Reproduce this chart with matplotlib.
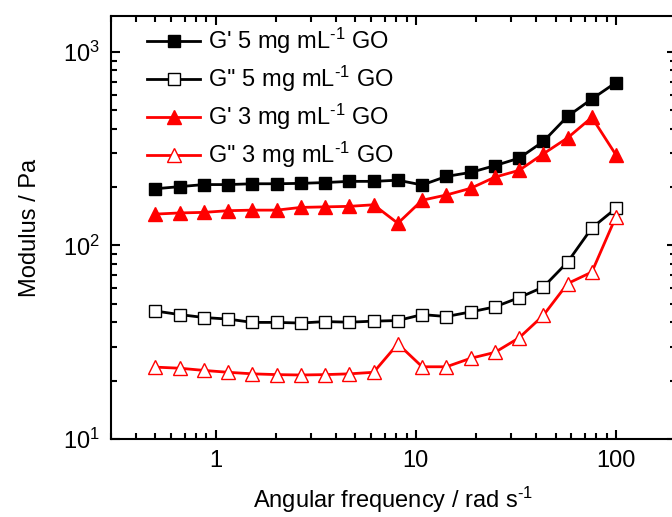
import matplotlib
matplotlib.use("Agg")
import matplotlib.pyplot as plt
from matplotlib import ticker

plt.rcParams['font.family'] = ['Liberation Sans', 'DejaVu Sans']
plt.rcParams['mathtext.fontset'] = 'custom'
plt.rcParams['mathtext.rm'] = 'Liberation Sans'
plt.rcParams['mathtext.it'] = 'Liberation Sans:italic'
plt.rcParams['mathtext.bf'] = 'Liberation Sans:bold'

# angular frequency (rad/s)
freq = [0.5, 0.661, 0.874, 1.155, 1.527, 2.018, 2.667, 3.526, 4.661, 6.161,
        8.144, 10.77, 14.23, 18.81, 24.87, 32.87, 43.45, 57.44, 75.93, 100.0]

# moduli (Pa)
g1_5mg = [196, 201, 206, 206, 208, 208, 209, 211, 214, 214,
          217, 205, 227, 238, 258, 282, 344, 464, 570, 692]
g2_5mg = [45.8, 43.9, 42.4, 41.6, 40.0, 40.0, 39.7, 40.4, 40.1, 40.6,
          40.9, 43.9, 42.9, 45.3, 48.1, 53.7, 60.9, 82.0, 123, 155]
g1_3mg = [145, 147, 148, 151, 152, 152, 157, 158, 159, 162,
          130, 171, 182, 197, 225, 244, 297, 359, 458, 294]
g2_3mg = [23.5, 23.2, 22.6, 22.1, 21.7, 21.5, 21.4, 21.5, 21.7, 22.1,
          31.0, 23.6, 23.6, 26.1, 28.0, 33.3, 43.5, 63.5, 72.8, 140]

sup = r"$^{\text{-}1}$"
labels = ["G' 5 mg mL" + sup + " GO", "G'' 5 mg mL" + sup + " GO",
          "G' 3 mg mL" + sup + " GO", "G'' 3 mg mL" + sup + " GO"]
xticks = [1, 10, 100]
xtick_labels = ['1', '10', '100']

fig = plt.figure(figsize=(6.72, 5.17), dpi=100)
ax = fig.add_axes([0.1652, 0.1509, 0.8408, 0.8172])

lw = 2.0
ax.plot(freq, g1_5mg, '-s', color='black', lw=lw, ms=8.5, mfc='black', mec='black', mew=1, label=labels[0])
ax.plot(freq, g2_5mg, '-s', color='black', lw=lw, ms=8.5, mfc='white', mec='black', mew=1, label=labels[1])
ax.plot(freq, g1_3mg, '-^', color='red', lw=lw, ms=10.5, mfc='red', mec='red', mew=1, label=labels[2])
ax.plot(freq, g2_3mg, '-^', color='red', lw=lw, ms=10.5, mfc='white', mec='red', mew=1, label=labels[3])

ax.set_xscale('log')
ax.set_yscale('log')
ax.set_xlim(0.3, 200)
ax.set_ylim(10, 1520)

ax.set_xticks(xticks)
ax.set_xticklabels(xtick_labels)
ax.xaxis.set_minor_locator(ticker.LogLocator(base=10, subs=range(2, 10)))
ax.xaxis.set_minor_formatter(ticker.NullFormatter())
ax.yaxis.set_major_locator(ticker.LogLocator(base=10))
ax.yaxis.set_minor_locator(ticker.LogLocator(base=10, subs=range(2, 10)))
ax.yaxis.set_minor_formatter(ticker.NullFormatter())

ax.tick_params(which='both', direction='in', top=True, right=True, width=1.5, labelsize=17)
ax.tick_params(which='major', length=6.5, pad=8)
ax.tick_params(which='minor', length=4.3)
for s in ax.spines.values():
    s.set_linewidth(1.5)

ax.set_xlabel('Angular frequency / rad s' + sup, fontsize=17, labelpad=9)
ax.set_ylabel('Modulus / Pa', fontsize=17, labelpad=16)

ax.legend(loc='upper left', bbox_to_anchor=(0.0637, 0.978), frameon=False,
          fontsize=17, numpoints=1, handlelength=2.25, handletextpad=0.35,
          labelspacing=0.33, borderpad=0, borderaxespad=0)

fig.savefig('out.png', dpi=100)
